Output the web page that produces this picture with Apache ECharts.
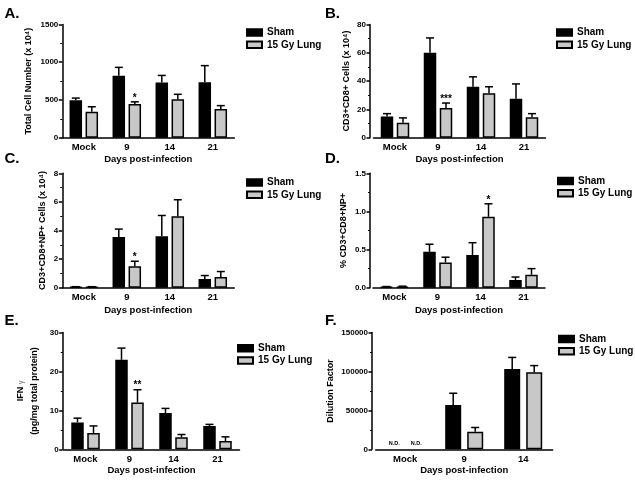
<!DOCTYPE html>
<html><head><meta charset="utf-8">
<script src="https://cdn.jsdelivr.net/npm/echarts@6/dist/echarts.min.js"></script>
<style>html,body{margin:0;padding:0;background:#fff}#c{width:635px;height:481px}</style>
</head><body><div id="c"></div>
<script>
// ---------- data ----------
const days4 = ['Mock', '9', '14', '21'];
const days3 = ['Mock', '9', '14'];
const seriesNames = ['Sham', '15 Gy Lung'];
const xTitle = 'Days post-infection';

// A. Total cell number
const aSham = [495, 822, 730, 735];
const aShamErr = [30, 110, 95, 220];
const aGy = [345, 445, 510, 380];
const aGyErr = [65, 30, 65, 45];
const aGyMarks = ['', '*', '', ''];
const aTicks = [0, 500, 1000, 1500];

// B. CD3+CD8+ cells
const bSham = [15, 60, 36, 27.5];
const bShamErr = [2, 10.5, 7, 10.5];
const bGy = [10.5, 21, 31.5, 14.5];
const bGyErr = [3.5, 3.5, 4.5, 2.5];
const bGyMarks = ['', '***', '', ''];
const bTicks = [0, 20, 40, 60, 80];

// C. CD3+CD8+NP+ cells
const cSham = [0.05, 3.55, 3.6, 0.6];
const cShamErr = [0.02, 0.55, 1.45, 0.25];
const cGy = [0.05, 1.5, 5.0, 0.75];
const cGyErr = [0.02, 0.35, 1.15, 0.38];
const cGyMarks = ['', '*', '', ''];
const cTicks = [0, 2, 4, 6, 8];

// D. % CD3+CD8+NP+
const dSham = [0.01, 0.47, 0.43, 0.10];
const dShamErr = [0.005, 0.10, 0.16, 0.04];
const dGy = [0.015, 0.33, 0.93, 0.17];
const dGyErr = [0.005, 0.07, 0.17, 0.08];
const dGyMarks = ['', '', '*', ''];
const dTicks = [0, 0.5, 1.0, 1.5];

// E. IFN gamma
const eSham = [6.9, 23, 9.3, 6.0];
const eShamErr = [1.1, 3.0, 1.2, 0.4];
const eGy = [4.2, 12, 3.1, 2.1];
const eGyErr = [1.8, 3.3, 0.7, 1.1];
const eGyMarks = ['', '**', '', ''];
const eTicks = [0, 10, 20, 30];

// F. Dilution factor
const fSham = [null, 57000, 103000];
const fShamErr = [null, 15000, 15000];
const fGy = [null, 22500, 99000];
const fGyErr = [null, 5500, 8500];
const fShamMarks = ['N.D.', '', ''];
const fGyMarks = ['N.D.', '', ''];
const fTicks = [0, 50000, 100000, 150000];

// ---------- layout ----------
const FONT = "'Liberation Sans', Arial, Helvetica, sans-serif";
const GRAY = '#c8c8c8';

const panels = [
  {label: 'A.', cats: days4, sham: aSham, shamErr: aShamErr, gy: aGy, gyErr: aGyErr, shamMarks: [], gyMarks: aGyMarks,
   ticks: aTicks, yName: 'Total Cell Number (x 10⁴)', fmt: v => String(v),
   grid: {left: 62.3, top: 24.5, width: 172, height: 113.2}, yOffset: 0, nameGap: 27, xNameGap: 16.5,
   bw: 12.5, gap: 3.5, legend: {left: 246, top: 27.5}, title: {left: 4.5, top: 6}},
  {label: 'B.', cats: days4, sham: bSham, shamErr: bShamErr, gy: bGy, gyErr: bGyErr, shamMarks: [], gyMarks: bGyMarks,
   ticks: bTicks, yName: 'CD3+CD8+ Cells (x 10⁴)', fmt: v => String(v),
   grid: {left: 373.5, top: 24.5, width: 172, height: 113.2}, yOffset: 3.5, nameGap: 10, xNameGap: 16.5,
   bw: 12.5, gap: 3.5, legend: {left: 556, top: 27.5}, title: {left: 325, top: 6}},
  {label: 'C.', cats: days4, sham: cSham, shamErr: cShamErr, gy: cGy, gyErr: cGyErr, shamMarks: [], gyMarks: cGyMarks,
   ticks: cTicks, yName: 'CD3+CD8+NP+ Cells (x 10⁴)', fmt: v => String(v),
   grid: {left: 62.3, top: 173.3, width: 172, height: 114.4}, yOffset: 0, nameGap: 10, xNameGap: 18,
   bw: 12.5, gap: 3.5, legend: {left: 246, top: 177.5}, title: {left: 4.5, top: 151.5}},
  {label: 'D.', cats: days4, sham: dSham, shamErr: dShamErr, gy: dGy, gyErr: dGyErr, shamMarks: [], gyMarks: dGyMarks,
   ticks: dTicks, yName: '% CD3+CD8+NP+', fmt: v => v.toFixed(1),
   grid: {left: 373, top: 173.3, width: 172, height: 114.4}, yOffset: 3, nameGap: 16, xNameGap: 18,
   bw: 12.5, gap: 3.5, legend: {left: 557, top: 176}, title: {left: 325, top: 151.5}},
  {label: 'E.', cats: days4, sham: eSham, shamErr: eShamErr, gy: eGy, gyErr: eGyErr, shamMarks: [], gyMarks: eGyMarks,
   ticks: eTicks, yName: '{a|IFN} {g|γ}\n{a|(pg/mg total protein)}', fmt: v => String(v),
   grid: {left: 63.5, top: 332.5, width: 176, height: 116.8}, yOffset: 0.8, nameGap: 21, xNameGap: 16,
   bw: 12.5, gap: 3.5, legend: {left: 237, top: 343.3}, title: {left: 4.5, top: 313}},
  {label: 'F.', cats: days3, sham: fSham, shamErr: fShamErr, gy: fGy, gyErr: fGyErr, shamMarks: fShamMarks, gyMarks: fGyMarks,
   ticks: fTicks, yName: 'Dilution Factor', fmt: v => String(v),
   grid: {left: 375.7, top: 332.5, width: 177, height: 116.8}, yOffset: 3.7, nameGap: 28, xNameGap: 16,
   bw: 16, gap: 6, legend: {left: 558, top: 334}, title: {left: 325, top: 313}}
];

const grids = [], xAxes = [], yAxes = [], series = [], legends = [], titles = [];

panels.forEach((p, gi) => {
  grids.push(Object.assign({containLabel: false}, p.grid));
  titles.push({text: p.label, left: p.title.left, top: p.title.top, padding: 0,
    textStyle: {fontSize: 15, fontWeight: 'bold', fontFamily: FONT, color: '#000'}});
  legends.push({left: p.legend.left, top: p.legend.top, orient: 'vertical', padding: 0,
    itemWidth: 15, itemHeight: 6.5, itemGap: 2.3, icon: 'rect', selectedMode: false, data: seriesNames,
    textStyle: {fontSize: 10, fontWeight: 'bold', fontFamily: FONT, color: '#000', padding: [0, 0, 0, 0]}});
  xAxes.push({type: 'category', gridIndex: gi, data: p.cats,
    axisLine: {lineStyle: {color: '#000', width: 1.5}},
    axisTick: {alignWithLabel: true, length: 3, lineStyle: {color: '#000', width: 1.5}},
    axisLabel: {fontSize: 9.5, fontWeight: 'bold', color: '#000', margin: 5, fontFamily: FONT},
    name: xTitle, nameLocation: 'middle', nameGap: p.xNameGap,
    nameTextStyle: {fontSize: 9.5, fontWeight: 'bold', color: '#000', fontFamily: FONT}});
  const t = p.ticks;
  yAxes.push({type: 'value', gridIndex: gi, min: t[0], max: t[t.length - 1], interval: t[1] - t[0],
    offset: p.yOffset,
    axisLine: {show: true, lineStyle: {color: '#000', width: 1.5}},
    axisTick: {show: true, length: 3.5, lineStyle: {color: '#000', width: 1.5}},
    minorTick: {show: true, splitNumber: 2, length: 2, lineStyle: {color: '#000', width: 1}},
    splitLine: {show: false},
    axisLabel: {fontSize: 8, fontWeight: 'bold', color: '#000', margin: 4, fontFamily: FONT, formatter: p.fmt},
    name: p.yName, nameLocation: 'middle', nameGap: p.nameGap,
    nameTextStyle: {fontSize: 9, fontWeight: 'bold', color: '#000', fontFamily: FONT, lineHeight: 14,
      rich: {a: {fontSize: 9, fontWeight: 'bold', color: '#000', fontFamily: FONT, lineHeight: 14},
             g: {fontSize: 7, color: '#888', fontFamily: FONT, lineHeight: 14}}}});

  const barCommon = {type: 'bar', xAxisIndex: gi, yAxisIndex: gi, barWidth: p.bw,
    barGap: (p.gap / p.bw * 100) + '%', silent: true, animation: false};
  series.push(Object.assign({}, barCommon, {name: seriesNames[0], data: p.sham,
    itemStyle: {color: '#000', borderColor: '#000', borderWidth: 1.5}}));
  series.push(Object.assign({}, barCommon, {name: seriesNames[1], data: p.gy,
    itemStyle: {color: GRAY, borderColor: '#000', borderWidth: 1.5}}));

  const off = (p.bw + p.gap) / 2;
  const items = [];
  [[p.sham, p.shamErr, p.shamMarks], [p.gy, p.gyErr, p.gyMarks]].forEach((s, side) => {
    s[0].forEach((v, i) => {
      items.push({i: i, v: v, e: s[1][i], side: side, mark: (s[2] && s[2][i]) || ''});
    });
  });
  series.push({type: 'custom', xAxisIndex: gi, yAxisIndex: gi, silent: true, animation: false, z: 5,
    data: items.map(d => [d.i, d.v == null ? 0 : d.v + d.e]),
    renderItem: (params, api) => {
      const d = items[params.dataIndex];
      const children = [];
      const sx = d.side ? off : -off;
      if (d.v != null) {
        const b = api.coord([d.i, d.v]);
        const tp = api.coord([d.i, d.v + d.e]);
        const x = b[0] + sx;
        children.push({type: 'line', shape: {x1: x, y1: b[1], x2: x, y2: tp[1]},
          style: {stroke: '#000', lineWidth: 1.5}});
        children.push({type: 'line', shape: {x1: x - 4, y1: tp[1], x2: x + 4, y2: tp[1]},
          style: {stroke: '#000', lineWidth: 1.5}});
        if (d.mark) {
          children.push({type: 'text', x: x, y: tp[1] + 1,
            style: {text: d.mark, textAlign: 'center', textVerticalAlign: 'bottom',
              font: 'bold 10px ' + FONT, fill: '#000'}});
        }
      } else if (d.mark) {
        const b = api.coord([d.i, 0]);
        children.push({type: 'text', x: b[0] + sx, y: b[1] - 6,
          style: {text: d.mark, textAlign: 'center', textVerticalAlign: 'middle',
            font: 'bold 5.5px ' + FONT, fill: '#000'}});
      }
      return {type: 'group', children: children};
    }});
});

const chart = echarts.init(document.getElementById('c'), null, {renderer: 'canvas'});
chart.setOption({
  backgroundColor: '#fff',
  animation: false,
  textStyle: {fontFamily: FONT},
  title: titles,
  legend: legends,
  grid: grids,
  xAxis: xAxes,
  yAxis: yAxes,
  series: series
});
</script></body></html>
